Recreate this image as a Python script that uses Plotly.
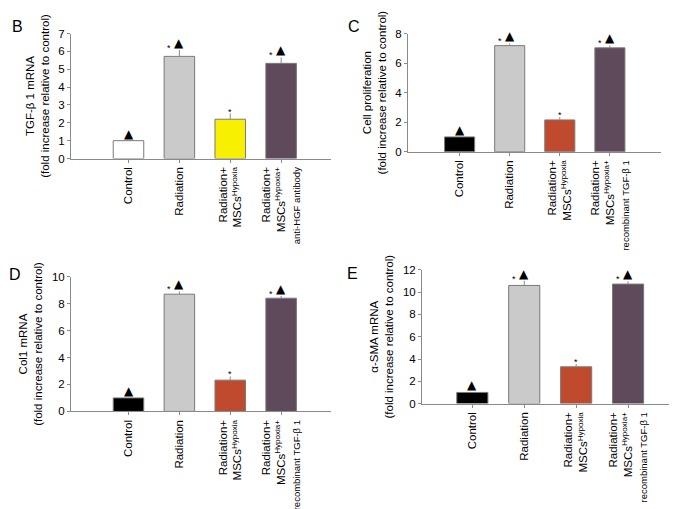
import plotly.graph_objects as go

W, H = 677, 509

lab_ctrl = "Control"
lab_rad = "Radiation"
lab_msc = "Radiation+<br>MSCs<sup>Hypoxia</sup>"
lab_hgf = "Radiation+<br>MSCs<sup>Hypoxia+</sup><br><span style='font-size:9.5px'>anti-HGF antibody</span>"
lab_tgf = "Radiation+<br>MSCs<sup>Hypoxia+</sup><br><span style='font-size:9.5px'>recombinant TGF-β 1</span>"

cats_B = [lab_ctrl, lab_rad, lab_msc, lab_hgf]
cats_CDE = [lab_ctrl, lab_rad, lab_msc, lab_tgf]

# values and upper errors
tgf_vals = [1.0, 5.72, 2.2, 5.33]
tgf_err = [0.0, 0.35, 0.32, 0.33]
prolif_vals = [1.0, 7.18, 2.15, 7.03]
prolif_err = [0.0, 0.15, 0.2, 0.17]
col1_vals = [1.0, 8.7, 2.32, 8.4]
col1_err = [0.0, 0.2, 0.28, 0.18]
sma_vals = [1.0, 10.6, 3.3, 10.72]
sma_err = [0.0, 0.42, 0.26, 0.25]

# markers: triangle on groups 0,1,3 ; star on 1,2,3
tri_flags = [1, 1, 0, 1]
star_flags = [0, 1, 1, 1]

colors_B = ["#ffffff", "#cacaca", "#f7f000", "#5f4a5b"]
colors_CDE = ["#000000", "#cacaca", "#c04a2e", "#5f4a5b"]

y_titles = [
    "TGF-β 1 mRNA<br>(fold increase relative to control)",
    "Cell proliferation<br>(fold increase relative to control)",
    "Col1 mRNA<br>(fold increase relative to control)",
    "α-SMA mRNA<br>(fold increase relative to control)",
]
y_ranges = [[0, 7], [0, 8], [0, 10], [0, 12]]
y_dtick = [1, 2, 2, 2]
panel_letters = ["B", "C", "D", "E"]

# layout (pixel boxes: x0, x1, ytop, ybottom)
boxes = [(63, 323, 20, 148), (400, 653, 20, 141), (63, 323, 269, 407), (414, 673, 262, 399)]
x_ranges = [[-1.13, 3.98], [-1.03, 4.02], [-1.13, 3.98], [-0.97, 4.02]]
letter_pos = [(9, 13), (346, 13), (7, 267), (344, 266)]

panels = [
    (cats_B, tgf_vals, tgf_err, colors_B),
    (cats_CDE, prolif_vals, prolif_err, colors_CDE),
    (cats_CDE, col1_vals, col1_err, colors_CDE),
    (cats_CDE, sma_vals, sma_err, colors_CDE),
]

fig = go.Figure()
font_family = "Liberation Sans, Arial, sans-serif"
grey = "#8a8a8a"
annotations = []
layout = {}

for i, (cats, vals, errs, cols) in enumerate(panels):
    n = i + 1
    xa = "x" if n == 1 else f"x{n}"
    ya = "y" if n == 1 else f"y{n}"
    x0, x1, yt, yb = boxes[i]
    ppu = (yb - yt) / (y_ranges[i][1] - y_ranges[i][0])  # pixels per unit

    fig.add_trace(go.Bar(
        x=cats, y=vals, xaxis=xa, yaxis=ya, width=0.6,
        marker=dict(color=cols, line=dict(color="#7a7a7a", width=1)),
        error_y=dict(type="data", symmetric=False, array=errs,
                     arrayminus=[0] * len(errs), color="#8a8a8a",
                     thickness=1, width=0),
        showlegend=False,
    ))
    tops = [v + e for v, e in zip(vals, errs)]
    for c, t, sf, tf in zip(cats, tops, star_flags, tri_flags):
        if tf:
            annotations.append(dict(
                x=c, y=t, xref=xa, yref=ya, text="▲", showarrow=False,
                yanchor="bottom", yshift=-2, xanchor="center",
                font=dict(size=12, color="#000000", family="DejaVu Sans"),
            ))
        if sf:
            annotations.append(dict(
                x=c, y=t, xref=xa, yref=ya, text="*", showarrow=False,
                xshift=-10 if tf else 0, yshift=2, yanchor="middle",
                font=dict(size=9, color="#000000", family=font_family),
            ))

    axis_suffix = "" if n == 1 else str(n)
    layout["xaxis" + axis_suffix] = dict(
        domain=[x0 / W, x1 / W], anchor=ya, range=x_ranges[i],
        type="category", showline=True, linecolor=grey, linewidth=1,
        ticks="outside", ticklen=3, tickcolor=grey, tickangle=-90,
        tickfont=dict(size=11.5, color="#000000", family=font_family),
        showgrid=False, zeroline=False, fixedrange=True,
    )
    layout["yaxis" + axis_suffix] = dict(
        domain=[1 - yb / H, 1 - yt / H], anchor=xa, range=y_ranges[i],
        dtick=y_dtick[i], tick0=0, showline=True, linecolor=grey, linewidth=1,
        ticks="outside", ticklen=3, tickcolor=grey,
        tickfont=dict(size=11.5, color="#000000", family=font_family),
        showgrid=False, zeroline=False,
        title=dict(text=y_titles[i], font=dict(size=11.5, color="#000000", family=font_family), standoff=6),
    )
    lx, ly = letter_pos[i]
    annotations.append(dict(
        x=lx / W, y=1 - ly / H, xref="paper", yref="paper", text=panel_letters[i],
        showarrow=False, xanchor="center", yanchor="middle",
        font=dict(size=16, color="#000000", family=font_family),
    ))

fig.update_layout(
    width=W, height=H, margin=dict(l=0, r=0, t=0, b=0),
    paper_bgcolor="#ffffff", plot_bgcolor="#ffffff",
    annotations=annotations, bargap=0.4, **layout,
)

fig.write_html("out.html")
